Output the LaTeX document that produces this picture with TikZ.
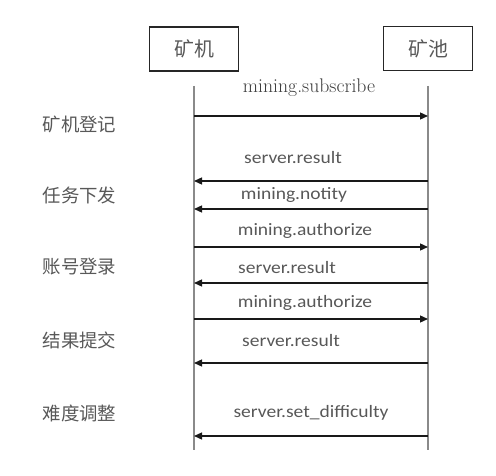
\documentclass[tikz,border=0pt]{standalone}
\usepackage{fontspec}
\newfontfamily\cjk{Noto Sans CJK SC}
\newfontfamily\carl{Carlito}
\usetikzlibrary{arrows.meta}
\definecolor{txt}{HTML}{585858}
\definecolor{sertxt}{HTML}{3C3C3C}
\definecolor{lifec}{HTML}{8A8A8A}
\newcommand{\wide}[1]{\scalebox{1.12}[1]{#1}}
\tikzset{
  actor/.style={draw=black!85, line width=1.1pt, minimum width=89bp, minimum height=44bp, inner sep=0pt, font=\cjk\fontsize{20}{22}\selectfont, text=txt},
  lifeline/.style={draw=lifec, line width=1.2pt},
  msg/.style={draw=black!90, line width=1.3pt, -{Triangle[length=8bp,width=7bp]}},
  msglab/.style={font=\carl\fontsize{17.5}{19}\selectfont, text=txt, inner sep=0pt},
  serlab/.style={font=\rmfamily\fontsize{19.8}{21}\selectfont, text=sertxt, inner sep=0pt},
  phase/.style={font=\cjk\fontsize{18.5}{20}\selectfont, text=txt, inner sep=0pt}
}
\begin{document}
\begin{tikzpicture}[x=1bp,y=-1bp]
\useasboundingbox (0,0) rectangle (496,476);
\node[actor] (miner) at (194,49) {矿机};
\node[actor] (pool) at (428,48.5) {矿池};
\coordinate (mtop) at (194,86);
\coordinate (mbot) at (194,450);
\coordinate (ptop) at (428,86);
\coordinate (pbot) at (428,450);
\draw[lifeline] (mtop) -- (mbot);
\draw[lifeline] (ptop) -- (pbot);
% message y positions
\foreach \n/\y in {m1/116,p1/181,p2/209,m2/247,p3/283,m3/319,p4/363,p5/436}{
  \coordinate (L\n) at (194,\y);
  \coordinate (R\n) at (428,\y);
}
\draw[msg] (Lm1) -- (Rm1);
\draw[msg] (Rp1) -- (Lp1);
\draw[msg] (Rp2) -- (Lp2);
\draw[msg] (Lm2) -- (Rm2);
\draw[msg] (Rp3) -- (Lp3);
\draw[msg] (Lm3) -- (Rm3);
\draw[msg] (Rp4) -- (Lp4);
\draw[msg] (Rp5) -- (Lp5);
% labels
\node[serlab] (t1) at (309,88) {mining.subscribe};
\node[msglab] (t2) at (293,158) {\wide{server.result}};
\node[msglab] (t3) at (294,195) {\wide{mining.notity}};
\node[msglab] (t4) at (305,231) {\wide{mining.authorize}};
\node[msglab] (t5) at (287,268) {\wide{server.result}};
\node[msglab] (t6) at (305,303) {\wide{mining.authorize}};
\node[msglab] (t7) at (291,341) {\wide{server.result}};
\node[msglab] (t8) at (311,413) {\wide{server.set\_difficulty}};
% phases
\node[phase] (ph1) at (79.5,124) {矿机登记};
\node[phase] (ph2) at (79.5,195) {任务下发};
\node[phase] (ph3) at (79.5,267) {账号登录};
\node[phase] (ph4) at (79.5,340) {结果提交};
\node[phase] (ph5) at (79.5,413) {难度调整};
\end{tikzpicture}
\end{document}
